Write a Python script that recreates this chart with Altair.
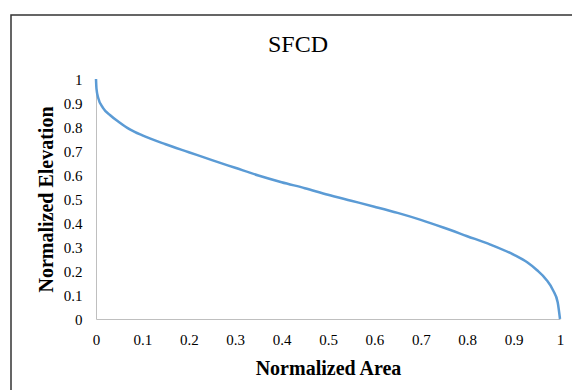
import altair as alt
import pandas as pd

area = [0, 0.001, 0.005, 0.015, 0.03, 0.05, 0.073, 0.1, 0.15, 0.2, 0.25, 0.3, 0.35,
        0.4, 0.45, 0.5, 0.55, 0.6, 0.65, 0.7, 0.75, 0.8, 0.85, 0.9, 0.93, 0.95,
        0.97, 0.985, 0.995, 1.0]
elev = [1.0, 0.96, 0.92, 0.88, 0.85, 0.82, 0.79, 0.765, 0.728, 0.695, 0.662, 0.630,
        0.598, 0.570, 0.545, 0.518, 0.493, 0.468, 0.442, 0.413, 0.380, 0.345, 0.310,
        0.268, 0.235, 0.204, 0.165, 0.12, 0.07, 0.0]
ticks = [round(i * 0.1, 1) for i in range(11)]
title_text = "SFCD"

df = pd.DataFrame({"area": area, "elev": elev})
FONT = "Liberation Serif"

line = alt.Chart(df).mark_line(color="#5b9bd5", strokeWidth=2.5, interpolate="monotone").encode(
    x=alt.X("area:Q", scale=alt.Scale(domain=[0, 1], nice=False),
            axis=alt.Axis(values=ticks, format=".1~f", title="Normalized Area",
                          grid=False, ticks=False, domainColor="#bfbfbf", labelFlush=False,
                          labelFont=FONT, labelFontSize=15, labelColor="#000",
                          labelPadding=13, titleFont=FONT, titleFontSize=20,
                          titleFontWeight="bold", titleColor="#000", titlePadding=11)),
    y=alt.Y("elev:Q", scale=alt.Scale(domain=[0, 1], nice=False),
            axis=alt.Axis(values=ticks, format=".1~f", title="Normalized Elevation",
                          grid=False, ticks=False, domainColor="#bfbfbf", labelFlush=False,
                          labelFont=FONT, labelFontSize=15, labelColor="#000",
                          labelPadding=14, titleFont=FONT, titleFontSize=20,
                          titleFontWeight="bold", titleColor="#000", titlePadding=7)),
)

frame = alt.Chart(alt.Data(values=[{}])).mark_rect(
    fill=None, stroke="#333", strokeWidth=1.5, clip=False
).encode(x=alt.value(-85), x2=alt.value(520), y=alt.value(-64), y2=alt.value(360))

title = alt.Chart(alt.Data(values=[{"t": title_text}])).mark_text(
    font=FONT, fontSize=24, color="#000", align="center", baseline="alphabetic"
).encode(x=alt.value(202), y=alt.value(-27), text="t:N")

chart = alt.layer(frame, line, title).properties(
    width=464, height=240,
    autosize=alt.AutoSizeParams(type="none"),
    padding={"left": 96, "top": 79, "right": 12, "bottom": 71},
    background="white",
).configure_view(stroke=None)

chart.save("out.html", embed_options={"renderer": "svg", "actions": False})
